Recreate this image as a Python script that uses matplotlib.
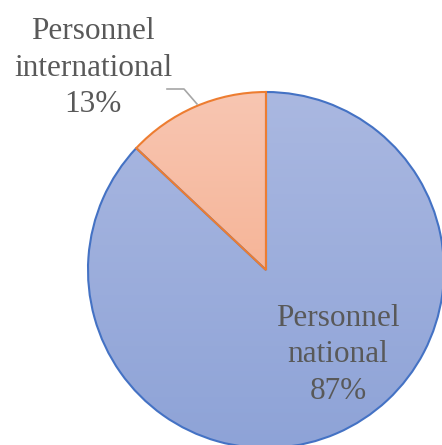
import numpy as np
import matplotlib
matplotlib.use("Agg")
import matplotlib.pyplot as plt
from matplotlib.colors import LinearSegmentedColormap

categories = ["Personnel national", "Personnel international"]
values = [87, 13]
pct_labels = ["87%", "13%"]

W, H = 442, 445
fig = plt.figure(figsize=(W / 100, H / 100), dpi=100)
ax = fig.add_axes([0, 0, 1, 1])

cx, cy, r = 266, H - 270, 178

wedges, _ = ax.pie(values, startangle=90, counterclock=False, radius=r,
                   center=(cx, cy), frame=True,
                   colors=["none", "none"],
                   wedgeprops=dict(linewidth=1.5))

edge_cols = ["#4472C4", "#ED7D31"]
grads = [("#AAB8E1", "#8EA3D7"), ("#F8C6B2", "#F4A47E")]
for w, ec, (top, bot) in zip(wedges, edge_cols, grads):
    w.set_edgecolor(ec)
    w.set_facecolor("none")
    w.set_zorder(3)
    cmap = LinearSegmentedColormap.from_list("g", [bot, top])
    grad = np.linspace(0, 1, 256).reshape(-1, 1)
    im = ax.imshow(grad, cmap=cmap, origin="lower", aspect="auto",
                   extent=(cx - r, cx + r, cy - r, cy + r), zorder=2)
    im.set_clip_path(w)

ax.set_xlim(0, W)
ax.set_ylim(0, H)
ax.set_aspect("equal")
ax.axis("off")

font = dict(family=["Liberation Serif", "DejaVu Serif"], fontsize=22.5,
            color="#595959", ha="center", va="center", linespacing=1.33)
ax.text(338, H - 355, "Personnel\nnational\n" + pct_labels[0], zorder=5, **font)
ax.text(93, H - 68, "Personnel\ninternational\n" + pct_labels[1], zorder=5, **font)

ax.plot([167, 184, 197], [H - 89, H - 89, H - 104], color="#A6A6A6",
        linewidth=1.2, zorder=4)

fig.savefig("out.png", dpi=100)
